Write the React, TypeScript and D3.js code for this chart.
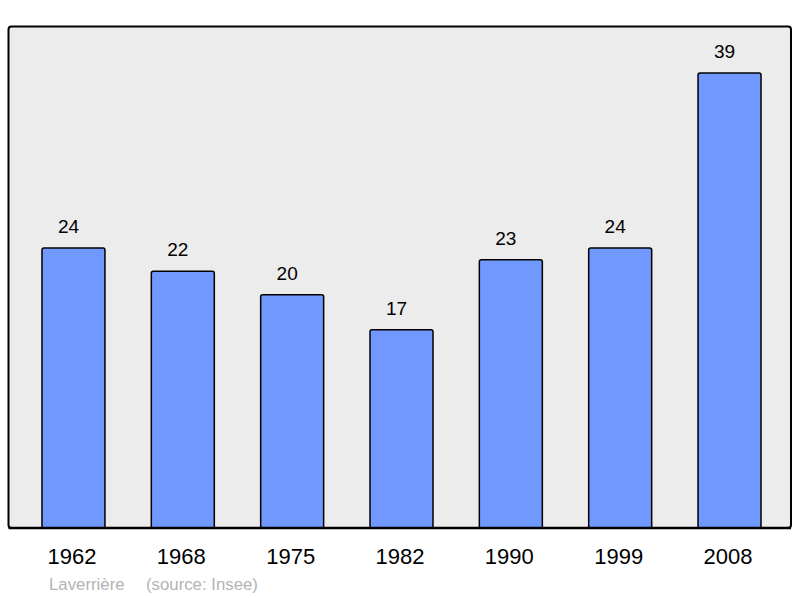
import React from "react";
import * as d3 from "d3";

const years = ["1962", "1968", "1975", "1982", "1990", "1999", "2008"];
const population = [24, 22, 20, 17, 23, 24, 39];
const townName = "Laverrière";
const sourceLabel = "(source: Insee)";

const W = 800;
const H = 598;

export default function App() {
  const x = d3
    .scaleBand<string>()
    .domain(years)
    .range([18.8, 784.2])
    .paddingInner(0.424)
    .paddingOuter(0.212);
  const y = d3.scaleLinear().domain([0, 43]).range([528, 26.3]);
  const font = "'Liberation Sans', Arial, sans-serif";
  return (
    <svg
      width={W}
      height={H}
      style={{ position: "absolute", left: 0, top: 0, display: "block" }}
      fontFamily={font}
    >
      <rect x={0} y={0} width={W} height={H} fill="#ffffff" />
      <rect
        x={8.5}
        y={26.5}
        width={782.5}
        height={501.5}
        rx={3}
        fill="#ececec"
        stroke="#000"
        strokeWidth={2}
      />
      {years.map((yr, i) => {
        const bx = x(yr)!;
        const top = y(population[i]);
        const bw = x.bandwidth();
        return (
          <g key={yr}>
            <path
              d={`M${bx},${y(0)} V${top + 2} Q${bx},${top} ${bx + 2},${top} H${bx + bw - 2} Q${bx + bw},${top} ${bx + bw},${top + 2} V${y(0)}`}
              fill="#7098ff"
              stroke="#000"
              strokeWidth={1.5}
            />
            <text
              x={bx + bw / 2 - 5}
              y={top - 15}
              textAnchor="middle"
              fontSize={19}
              fill="#000"
            >
              {population[i]}
            </text>
            <text
              x={bx + bw / 2 - 1.5}
              y={564.3}
              textAnchor="middle"
              fontSize={22}
              fill="#000"
            >
              {yr}
            </text>
          </g>
        );
      })}
      <line x1={8.5} x2={791} y1={528} y2={528} stroke="#000" strokeWidth={2.5} />
      <text x={49} y={590} fontSize={16.8} fill="#b3b3b3">
        {townName}
      </text>
      <text x={146} y={590} fontSize={16.8} fill="#b3b3b3">
        {sourceLabel}
      </text>
    </svg>
  );
}
